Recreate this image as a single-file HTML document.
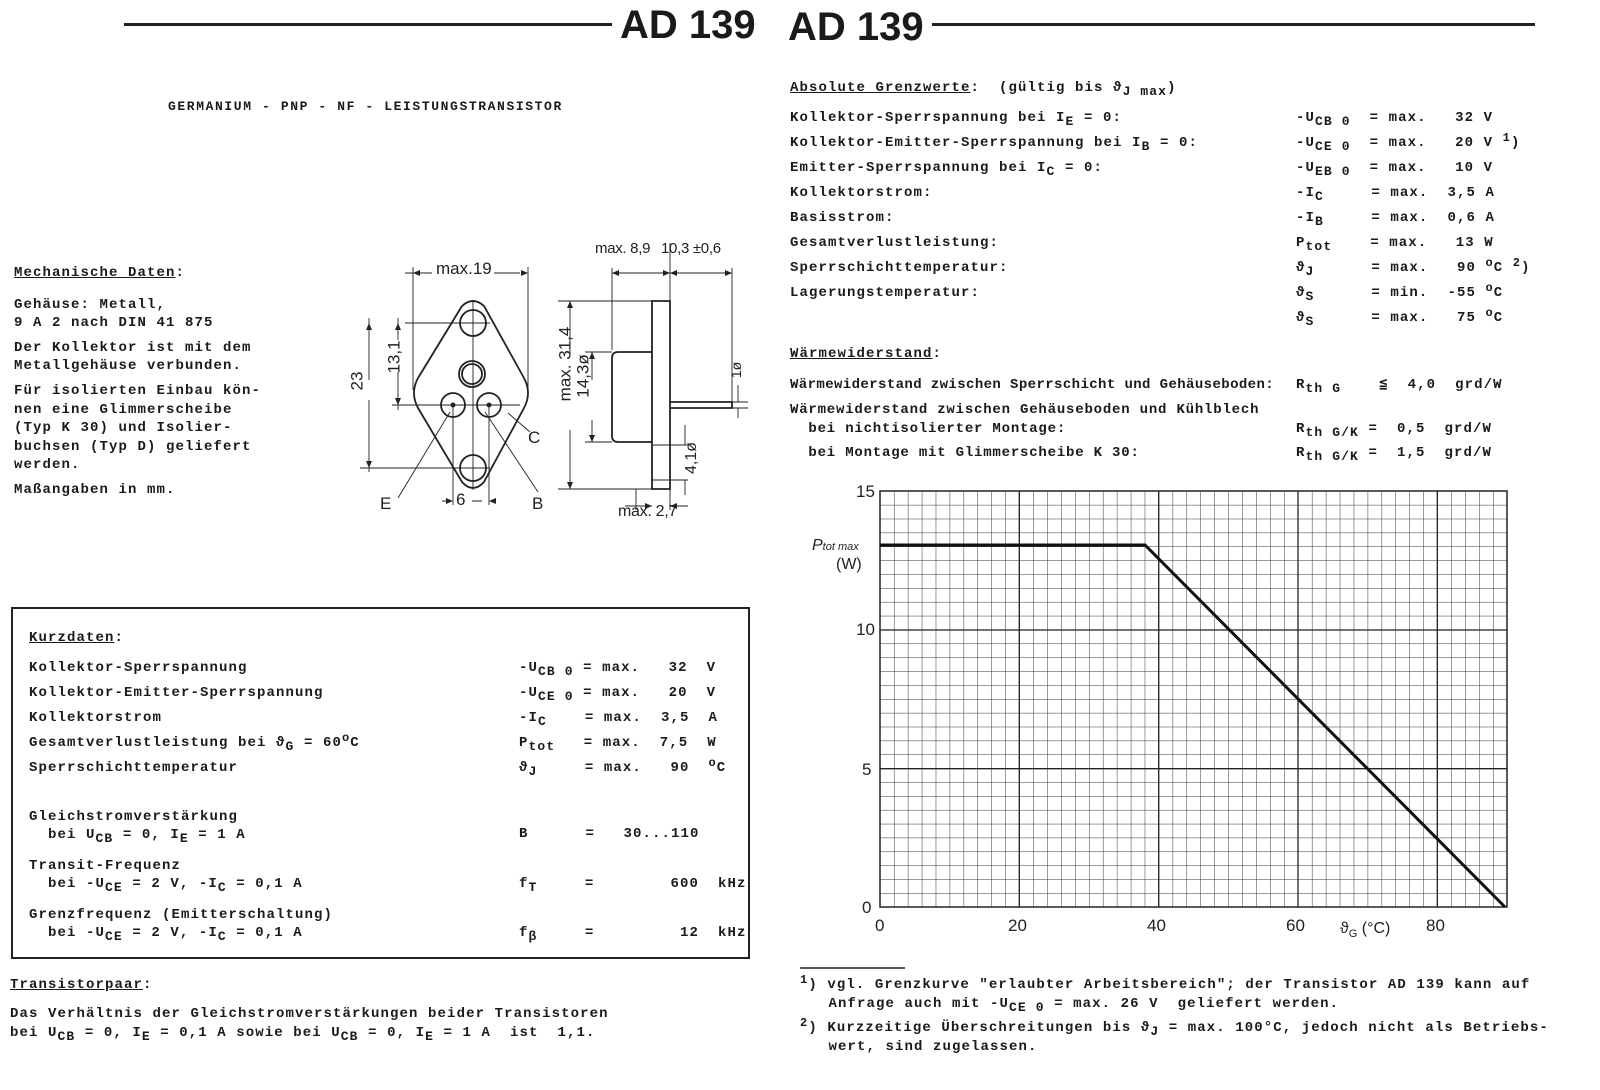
<!DOCTYPE html>
<html><head><meta charset="utf-8"><style>
body{margin:0;background:#fff;}
#p{position:relative;width:1600px;height:1090px;overflow:hidden;background:#fff;color:#1a1a1a;}
.t{position:absolute;white-space:pre;font-family:"Liberation Mono",monospace;font-weight:bold;font-size:14px;letter-spacing:1.1px;line-height:18px;}
.u{text-decoration:underline;}
sub{font-size:13px;vertical-align:-4px;line-height:0;}
sup{font-size:12px;vertical-align:5px;line-height:0;}
.s{position:absolute;white-space:pre;font-family:"Liberation Sans",sans-serif;color:#222;}
.h{position:absolute;font-family:"Liberation Sans",sans-serif;font-weight:bold;font-size:40px;line-height:40px;}
</style></head><body><div id="p">
<div style="position:absolute;left:124px;top:23px;width:488px;height:3px;background:#222"></div>
<div style="position:absolute;left:932px;top:23px;width:603px;height:3px;background:#222"></div>
<div class="h" style="left:620px;top:5px">AD 139</div>
<div class="h" style="left:788px;top:7px">AD 139</div>

<div class="t" style="left:168px;top:98px;font-size:13px;letter-spacing:1.6px">GERMANIUM - PNP - NF - LEISTUNGSTRANSISTOR</div>

<div class="t" style="left:14px;top:264px"><span class="u">Mechanische Daten</span>:</div>
<div class="t" style="left:14px;top:296px">Gehäuse: Metall,
9 A 2 nach DIN 41 875</div>
<div class="t" style="left:14px;top:339px">Der Kollektor ist mit dem
Metallgehäuse verbunden.</div>
<div class="t" style="left:14px;top:382px;line-height:18.5px">Für isolierten Einbau kön-
nen eine Glimmerscheibe
(Typ K 30) und Isolier-
buchsen (Typ D) geliefert
werden.</div>
<div class="t" style="left:14px;top:481px">Maßangaben in mm.</div>

<svg style="position:absolute;left:340px;top:230px" width="420" height="300" viewBox="340 230 420 300" fill="none" stroke="#222">
<g stroke-width="1.8">
<path d="M462,306 Q473,296 484,306 L524,378 Q532,393 524,408 L484,482 Q473,494 462,482 L418,408 Q410,393 418,378 Z"/>
<circle cx="473" cy="323" r="13"/><circle cx="473" cy="468" r="13"/>
<circle cx="472" cy="374" r="13"/><circle cx="472" cy="374" r="10"/>
<circle cx="453" cy="405" r="12"/><circle cx="489" cy="405" r="12"/>
<path d="M652,301 H670 V489 H652 Z"/>
<path d="M652,352 H618 Q612,352 612,358 V436 Q612,442 618,442 H652"/>
<path d="M670,402 H732 V408 H670"/>
</g>
<circle cx="453" cy="405" r="2" fill="#222"/><circle cx="489" cy="405" r="2" fill="#222"/>
<g stroke-width="0.9">
<path d="M413,267 V390 M528,267 V390 M405,323 H490 M360,468 H490 M392,405 H520"/>
<path d="M473,300 V490 M453,405 V505 M489,405 V505"/>
<path d="M369,318 V380 M369,400 V472 M398,318 V340 M398,372 V410"/>
<path d="M405,273 H432 M494,273 H520"/>
<path d="M442,501 H450 M472,501 H482"/>
<path d="M450,412 L398,498 M485,412 L538,492 M508,413 L530,432"/>
<path d="M612,268 V350 M670,243 V301 M732,268 V402"/>
<path d="M612,273 H670 M670,273 H732"/>
<path d="M558,301 H652 M585,352 H612 M585,442 H612 M558,489 H652"/>
<path d="M570,301 V355 M570,430 V489 M592,352 V380 M592,420 V442"/>
<path d="M652,445 H688 M652,480 H688 M685,445 V425 M685,480 V495"/>
<path d="M732,402 H748 M732,408 H748 M738,385 V402 M738,408 V418"/>
<path d="M636,489 V510 M670,489 V510 M625,506 H652 M670,506 H688"/>
</g>
<g fill="#222" stroke="none">
<path d="M413,273 l7,-3 v6z M528,273 l-7,-3 v6z M369,323 l-3,7 h6z M369,468 l-3,-7 h6z M398,323 l-3,7 h6z M398,405 l-3,-7 h6z"/>
<path d="M453,501 l-7,-3 v6z M489,501 l7,-3 v6z M612,273 l7,-3 v6z M670,273 l-7,-3 v6z M670,273 l7,-3 v6z M732,273 l-7,-3 v6z"/>
<path d="M570,301 l-3,7 h6z M570,489 l-3,-7 h6z M592,352 l-3,7 h6z M592,442 l-3,-7 h6z M652,506 l-7,-3 v6z M670,506 l7,-3 v6z"/>
</g>
</svg>
<div class="s" style="left:436px;top:259px;font-size:17px">max.19</div>
<div class="s" style="left:595px;top:240px;font-size:15px;letter-spacing:-0.3px">max. 8,9</div>
<div class="s" style="left:661px;top:240px;font-size:15px;letter-spacing:-0.3px">10,3 ±0,6</div>
<div class="s" style="left:348px;top:371px;font-size:17px;transform:rotate(-90deg)">23</div>
<div class="s" style="left:378px;top:347px;font-size:17px;transform:rotate(-90deg)">13,1</div>
<div class="s" style="left:528px;top:354px;font-size:17px;transform:rotate(-90deg)">max. 31,4</div>
<div class="s" style="left:562px;top:366px;font-size:17px;transform:rotate(-90deg)">14,3ø</div>
<div class="s" style="left:676px;top:449px;font-size:16px;transform:rotate(-90deg)">4,1ø</div>
<div class="s" style="left:728px;top:362px;font-size:14px;transform:rotate(-90deg)">1ø</div>
<div class="s" style="left:528px;top:428px;font-size:17px">C</div>
<div class="s" style="left:380px;top:494px;font-size:17px">E</div>
<div class="s" style="left:532px;top:494px;font-size:17px">B</div>
<div class="s" style="left:456px;top:490px;font-size:17px">6</div>
<div class="s" style="left:618px;top:503px;font-size:16px;letter-spacing:-0.3px">max. 2,7</div>

<div style="position:absolute;left:11px;top:607px;width:735px;height:348px;border:2px solid #222"></div>
<div class="t" style="left:29px;top:629px"><span class="u">Kurzdaten</span>:</div>
<div class="t" style="left:29px;top:659px">Kollektor-Sperrspannung</div>
<div class="t" style="left:29px;top:684px">Kollektor-Emitter-Sperrspannung</div>
<div class="t" style="left:29px;top:709px">Kollektorstrom</div>
<div class="t" style="left:29px;top:734px">Gesamtverlustleistung bei ϑ<sub>G</sub> = 60<sup>o</sup>C</div>
<div class="t" style="left:29px;top:759px">Sperrschichttemperatur</div>
<div class="t" style="left:519px;top:659px">-U<sub>CB 0</sub> = max.   32  V</div>
<div class="t" style="left:519px;top:684px">-U<sub>CE 0</sub> = max.   20  V</div>
<div class="t" style="left:519px;top:709px">-I<sub>C</sub>    = max.  3,5  A</div>
<div class="t" style="left:519px;top:734px">P<sub>tot</sub>   = max.  7,5  W</div>
<div class="t" style="left:519px;top:759px">ϑ<sub>J</sub>     = max.   90  <sup>o</sup>C</div>
<div class="t" style="left:29px;top:808px">Gleichstromverstärkung
  bei U<sub>CB</sub> = 0, I<sub>E</sub> = 1 A</div>
<div class="t" style="left:519px;top:825px">B      =   30...110</div>
<div class="t" style="left:29px;top:857px">Transit-Frequenz
  bei -U<sub>CE</sub> = 2 V, -I<sub>C</sub> = 0,1 A</div>
<div class="t" style="left:519px;top:875px">f<sub>T</sub>     =        600  kHz</div>
<div class="t" style="left:29px;top:906px">Grenzfrequenz (Emitterschaltung)
  bei -U<sub>CE</sub> = 2 V, -I<sub>C</sub> = 0,1 A</div>
<div class="t" style="left:519px;top:924px">f<sub>β</sub>     =         12  kHz</div>

<div class="t" style="left:10px;top:976px"><span class="u">Transistorpaar</span>:</div>
<div class="t" style="left:10px;top:1005px;line-height:19px">Das Verhältnis der Gleichstromverstärkungen beider Transistoren
bei U<sub>CB</sub> = 0, I<sub>E</sub> = 0,1 A sowie bei U<sub>CB</sub> = 0, I<sub>E</sub> = 1 A  ist  1,1.</div>

<div class="t" style="left:790px;top:79px"><span class="u">Absolute Grenzwerte</span>:  (gültig bis ϑ<sub>J max</sub>)</div>
<div class="t" style="left:790px;top:109px">Kollektor-Sperrspannung bei I<sub>E</sub> = 0:</div>
<div class="t" style="left:790px;top:134px">Kollektor-Emitter-Sperrspannung bei I<sub>B</sub> = 0:</div>
<div class="t" style="left:790px;top:159px">Emitter-Sperrspannung bei I<sub>C</sub> = 0:</div>
<div class="t" style="left:790px;top:184px">Kollektorstrom:</div>
<div class="t" style="left:790px;top:209px">Basisstrom:</div>
<div class="t" style="left:790px;top:234px">Gesamtverlustleistung:</div>
<div class="t" style="left:790px;top:259px">Sperrschichttemperatur:</div>
<div class="t" style="left:790px;top:284px">Lagerungstemperatur:</div>
<div class="t" style="left:1296px;top:109px">-U<sub>CB 0</sub>  = max.   32 V</div>
<div class="t" style="left:1296px;top:134px">-U<sub>CE 0</sub>  = max.   20 V <sup>1</sup>)</div>
<div class="t" style="left:1296px;top:159px">-U<sub>EB 0</sub>  = max.   10 V</div>
<div class="t" style="left:1296px;top:184px">-I<sub>C</sub>     = max.  3,5 A</div>
<div class="t" style="left:1296px;top:209px">-I<sub>B</sub>     = max.  0,6 A</div>
<div class="t" style="left:1296px;top:234px">P<sub>tot</sub>    = max.   13 W</div>
<div class="t" style="left:1296px;top:259px">ϑ<sub>J</sub>      = max.   90 <sup>o</sup>C <sup>2</sup>)</div>
<div class="t" style="left:1296px;top:284px">ϑ<sub>S</sub>      = min.  -55 <sup>o</sup>C</div>
<div class="t" style="left:1296px;top:309px">ϑ<sub>S</sub>      = max.   75 <sup>o</sup>C</div>

<div class="t" style="left:790px;top:345px"><span class="u">Wärmewiderstand</span>:</div>
<div class="t" style="left:790px;top:376px;letter-spacing:0.4px">Wärmewiderstand zwischen Sperrschicht und Gehäuseboden:</div>
<div class="t" style="left:790px;top:401px;line-height:19px;letter-spacing:0.8px">Wärmewiderstand zwischen Gehäuseboden und Kühlblech
  bei nichtisolierter Montage:</div>
<div class="t" style="left:790px;top:444px;letter-spacing:0.8px">  bei Montage mit Glimmerscheibe K 30:</div>
<div class="t" style="left:1296px;top:376px">R<sub>th G</sub>    ≦  4,0  grd/W</div>
<div class="t" style="left:1296px;top:420px">R<sub>th G/K</sub> =  0,5  grd/W</div>
<div class="t" style="left:1296px;top:444px">R<sub>th G/K</sub> =  1,5  grd/W</div>

<svg style="position:absolute;left:0;top:0" width="1600" height="1090">
<defs><pattern id="g" x="880" y="491" width="13.933" height="13.867" patternUnits="userSpaceOnUse">
<path d="M0,0 H13.933 M0,0 V13.867" stroke="#333" stroke-width="1" fill="none"/></pattern></defs>
<rect x="880" y="491" width="627" height="416" fill="url(#g)"/>
<rect x="880" y="491" width="627" height="416" fill="none" stroke="#222" stroke-width="1.5"/>
<path d="M880,630 H1507 M880,768.7 H1507 M1019.3,491 V907 M1158.7,491 V907 M1298,491 V907 M1437.3,491 V907" stroke="#222" stroke-width="1.3"/>
<path d="M880,545 H1145 L1505,907" stroke="#111" stroke-width="3" fill="none"/>
<path d="M800,968 H905" stroke="#222" stroke-width="1.5"/>
</svg>
<div class="s" style="left:856px;top:482px;font-size:17px">15</div>
<div class="s" style="left:856px;top:620px;font-size:17px">10</div>
<div class="s" style="left:862px;top:760px;font-size:17px">5</div>
<div class="s" style="left:862px;top:898px;font-size:17px">0</div>
<div class="s" style="left:875px;top:916px;font-size:17px">0</div>
<div class="s" style="left:1008px;top:916px;font-size:17px">20</div>
<div class="s" style="left:1147px;top:916px;font-size:17px">40</div>
<div class="s" style="left:1286px;top:916px;font-size:17px">60</div>
<div class="s" style="left:1426px;top:916px;font-size:17px">80</div>
<div class="s" style="left:1340px;top:920px;font-size:16px">ϑ<sub style="font-size:11px">G</sub> (°C)</div>
<div class="s" style="left:812px;top:537px;font-size:16px;font-style:italic">P<span style="font-size:11px">tot max</span></div>
<div class="s" style="left:836px;top:556px;font-size:16px">(W)</div>

<div class="t" style="left:800px;top:976px;line-height:19px"><sup>1</sup>) vgl. Grenzkurve "erlaubter Arbeitsbereich"; der Transistor AD 139 kann auf
   Anfrage auch mit -U<sub>CE 0</sub> = max. 26 V  geliefert werden.</div>
<div class="t" style="left:800px;top:1019px;line-height:19px"><sup>2</sup>) Kurzzeitige Überschreitungen bis ϑ<sub>J</sub> = max. 100°C, jedoch nicht als Betriebs-
   wert, sind zugelassen.</div>
</div></body></html>
